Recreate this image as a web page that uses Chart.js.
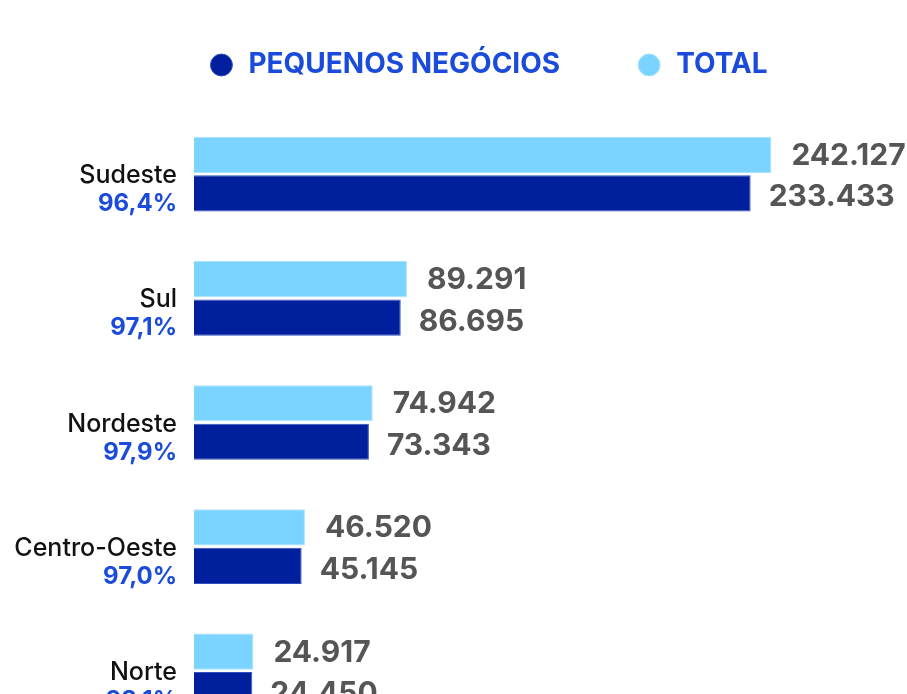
<!DOCTYPE html>
<html>
<head>
<meta charset="utf-8">
<script src="https://cdn.jsdelivr.net/npm/chart.js@4.4.1/dist/chart.umd.min.js"></script>
<style>
  html, body { margin: 0; padding: 0; background: #ffffff; overflow: hidden; }
  #wrap { position: relative; width: 907px; height: 770px; margin-top: -25px; }
</style>
</head>
<body>
<div id="wrap"><canvas id="regionsChart"></canvas></div>
<script>
// Data
const regions = ["Sudeste", "Sul", "Nordeste", "Centro-Oeste", "Norte"];
const shares = ["96,4%", "97,1%", "97,9%", "97,0%", "98,1%"];
const totalValues = [242127, 89291, 74942, 46520, 24917];
const smallBizValues = [233433, 86695, 73343, 45145, 24450];

const LIGHT = "#7bd3ff";
const DARK = "#001f9c";
const BLUE_TEXT = "#1a4bdb";
const FONT = "Inter, 'Noto Sans', sans-serif";

function formatBR(n) {
  return String(n).replace(/\B(?=(\d{3})+(?!\d))/g, ".");
}

// Draw the two-line category labels and the value labels next to bars
const labelsPlugin = {
  id: "labelsPlugin",
  afterDatasetsDraw(chart) {
    const ctx = chart.ctx;
    const yScale = chart.scales.y;
    const labelX = yScale.right - 17;
    ctx.save();

    // category name + share
    regions.forEach((name, i) => {
      const cy = yScale.getPixelForValue(i);
      ctx.textAlign = "right";
      ctx.textBaseline = "alphabetic";
      ctx.fillStyle = "#111111";
      ctx.font = "500 25px " + FONT;
      ctx.fillText(name, labelX, cy + 9);
      ctx.fillStyle = BLUE_TEXT;
      ctx.font = "700 24px " + FONT;
      ctx.fillText(shares[i], labelX, cy + 37);
    });

    // values at end of bars
    ctx.font = "700 30px " + FONT;
    ctx.fillStyle = "#555555";
    ctx.textAlign = "left";
    ctx.textBaseline = "middle";
    chart.data.datasets.forEach((ds, di) => {
      const meta = chart.getDatasetMeta(di);
      meta.data.forEach((bar, i) => {
        const shift = di === 0 ? 1 : 4;
        const gap = di === 0 ? 20 : 18;
        ctx.fillText(formatBR(ds.data[i]), bar.x + gap, bar.y + shift);
      });
    });
    ctx.restore();
  }
};

const chart = new Chart(document.getElementById("regionsChart"), {
  type: "bar",
  data: {
    labels: regions,
    datasets: [
      {
        label: "TOTAL",
        data: totalValues,
        backgroundColor: LIGHT,
        borderColor: "#a8e2ff",
        borderWidth: 1,
        barPercentage: 0.94,
        categoryPercentage: 0.62,
      },
      {
        label: "PEQUENOS NEGÓCIOS",
        data: smallBizValues,
        backgroundColor: DARK,
        borderColor: "#3350c0",
        borderWidth: 1,
        barPercentage: 0.94,
        categoryPercentage: 0.62,
      },
    ],
  },
  options: {
    indexAxis: "y",
    responsive: true,
    maintainAspectRatio: false,
    animation: false,
    layout: {
      padding: { left: 69, right: 0, top: 0, bottom: 12 },
    },
    scales: {
      x: {
        position: "top",
        min: 0,
        max: 299000,
        grid: { display: false },
        border: { display: false },
        ticks: { display: false },
        afterFit(scale) { scale.height = 23; },
      },
      y: {
        grid: { display: false },
        border: { display: false },
        ticks: { display: false },
        afterFit(scale) { scale.width = 125; },
      },
    },
    plugins: {
      tooltip: { enabled: false },
      legend: {
        position: "top",
        reverse: true,
        labels: {
          usePointStyle: true,
          pointStyle: "circle",
          boxWidth: 26,
          boxHeight: 15.5,
          padding: 76,
          color: BLUE_TEXT,
          font: { family: FONT, size: 28, weight: "700" },
        },
      },
    },
  },
  plugins: [labelsPlugin],
});
</script>
</body>
</html>
